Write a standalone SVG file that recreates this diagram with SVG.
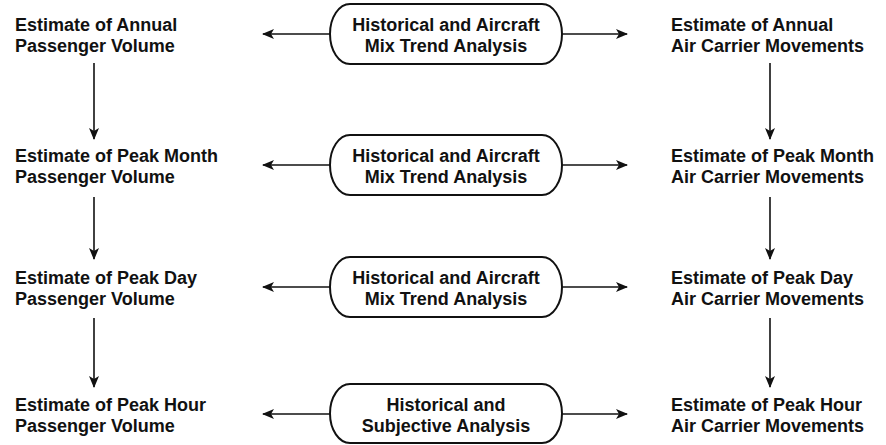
<svg xmlns="http://www.w3.org/2000/svg" width="886" height="445" viewBox="0 0 886 445">
<style>
text{font-family:"Liberation Sans",Arial,sans-serif;font-size:18px;font-weight:bold;fill:#111}
.c{text-anchor:middle}
.pill{fill:#fff;stroke:#111;stroke-width:2}
.ln{fill:none;stroke:#111;stroke-width:1.6}
</style>
<defs>
<marker id="ah" viewBox="0 0 12 10" refX="11" refY="5" markerWidth="12" markerHeight="10" markerUnits="userSpaceOnUse" orient="auto">
<path d="M0,0 L12,5 L0,10 L3,5 Z" fill="#111"/>
</marker>
</defs>
<rect width="886" height="445" fill="#fff"/>
<g id="connectors">
<line class="ln" x1="330" y1="34" x2="263" y2="34" marker-end="url(#ah)"/>
<line class="ln" x1="562" y1="34" x2="627" y2="34" marker-end="url(#ah)"/>
<line class="ln" x1="330" y1="165" x2="263" y2="165" marker-end="url(#ah)"/>
<line class="ln" x1="562" y1="165" x2="627" y2="165" marker-end="url(#ah)"/>
<line class="ln" x1="330" y1="287" x2="263" y2="287" marker-end="url(#ah)"/>
<line class="ln" x1="562" y1="287" x2="627" y2="287" marker-end="url(#ah)"/>
<line class="ln" x1="330" y1="414" x2="263" y2="414" marker-end="url(#ah)"/>
<line class="ln" x1="562" y1="414" x2="627" y2="414" marker-end="url(#ah)"/>
<line class="ln" x1="94" y1="63" x2="94" y2="139" marker-end="url(#ah)"/>
<line class="ln" x1="94" y1="197" x2="94" y2="259" marker-end="url(#ah)"/>
<line class="ln" x1="94" y1="318" x2="94" y2="387" marker-end="url(#ah)"/>
<line class="ln" x1="770" y1="63" x2="770" y2="139" marker-end="url(#ah)"/>
<line class="ln" x1="770" y1="197" x2="770" y2="259" marker-end="url(#ah)"/>
<line class="ln" x1="770" y1="318" x2="770" y2="387" marker-end="url(#ah)"/>
</g>
<g id="pax-annual"><text x="15" y="30.5">Estimate of Annual</text><text x="15" y="51.5">Passenger Volume</text></g>
<g id="pax-month"><text x="15" y="161.5">Estimate of Peak Month</text><text x="15" y="182.5">Passenger Volume</text></g>
<g id="pax-day"><text x="15" y="283.5">Estimate of Peak Day</text><text x="15" y="304.5">Passenger Volume</text></g>
<g id="pax-hour"><text x="15" y="410.5">Estimate of Peak Hour</text><text x="15" y="431.5">Passenger Volume</text></g>
<g id="trend-annual"><rect class="pill" x="330" y="4" width="232" height="60" rx="20" ry="30"/><text class="c" x="446" y="30.5">Historical and Aircraft</text><text class="c" x="446" y="52">Mix Trend Analysis</text></g>
<g id="trend-month"><rect class="pill" x="330" y="135" width="232" height="60" rx="20" ry="30"/><text class="c" x="446" y="161.5">Historical and Aircraft</text><text class="c" x="446" y="183">Mix Trend Analysis</text></g>
<g id="trend-day"><rect class="pill" x="330" y="257" width="232" height="60" rx="20" ry="30"/><text class="c" x="446" y="283.5">Historical and Aircraft</text><text class="c" x="446" y="305">Mix Trend Analysis</text></g>
<g id="subjective-hour"><rect class="pill" x="330" y="384" width="232" height="59" rx="20" ry="29.5"/><text class="c" x="446" y="410.5">Historical and</text><text class="c" x="446" y="432">Subjective Analysis</text></g>
<g id="acm-annual"><text x="671" y="30.5">Estimate of Annual</text><text x="671" y="51.5">Air Carrier Movements</text></g>
<g id="acm-month"><text x="671" y="161.5">Estimate of Peak Month</text><text x="671" y="182.5">Air Carrier Movements</text></g>
<g id="acm-day"><text x="671" y="283.5">Estimate of Peak Day</text><text x="671" y="304.5">Air Carrier Movements</text></g>
<g id="acm-hour"><text x="671" y="410.5">Estimate of Peak Hour</text><text x="671" y="431.5">Air Carrier Movements</text></g>
</svg>
